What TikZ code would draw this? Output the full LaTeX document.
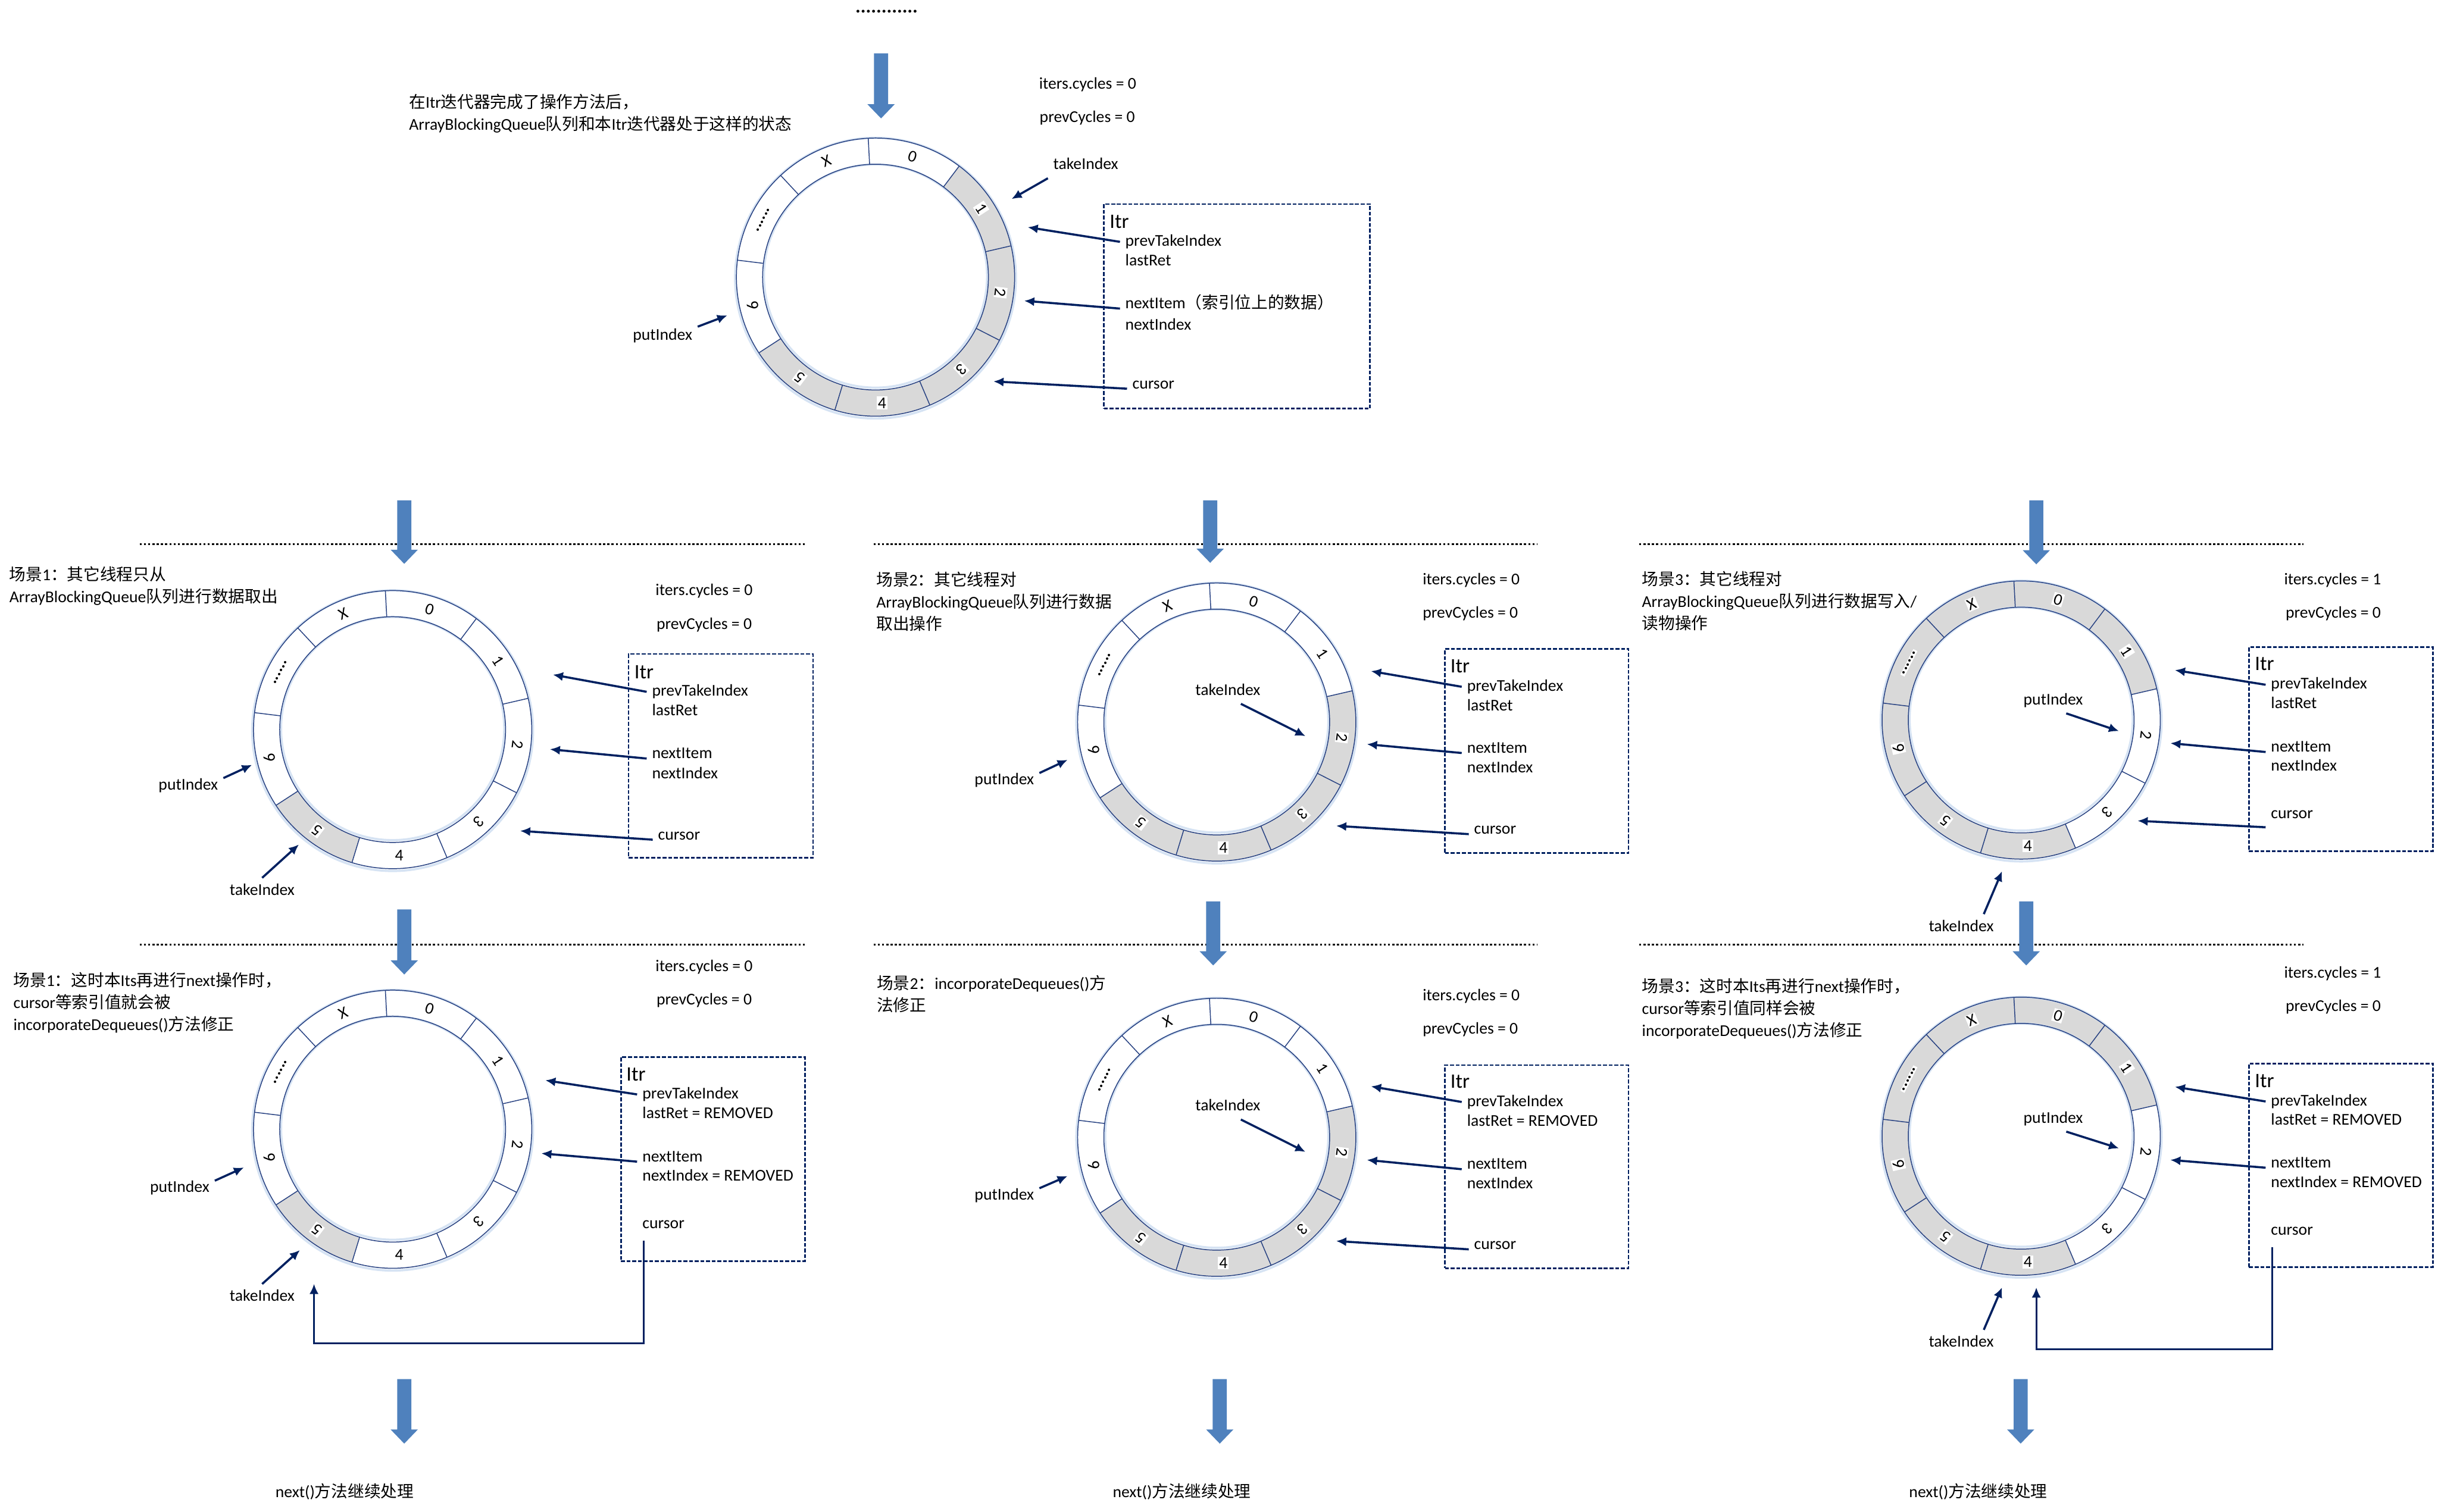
\documentclass[tikz,border=0pt]{standalone}
\usepackage{fontspec}
\setmainfont{Carlito}
\newfontfamily\cjk{Noto Sans CJK SC}
\usepackage{tikz}
\usetikzlibrary{arrows.meta}
\usepackage{xcolor}
\definecolor{navy}{RGB}{0,32,96}
\definecolor{ringblue}{RGB}{40,66,130}
\definecolor{glowblue}{RGB}{214,227,243}
\definecolor{slotgray}{RGB}{217,217,217}
\definecolor{blockblue}{RGB}{79,129,189}
\newcommand{\zh}[1]{{\cjk #1}}
\newcommand{\slotdots}{\textbf{......}}
% ring of 9 slots round a named centre, #2 = gray slots
\newcommand{\queuering}[2]{%
  \begin{scope}[shift={(#1)}]
    \foreach \k [evaluate=\k as \a using 93-40*\k, evaluate=\k as \b using 53-40*\k] in {#2}
      \fill[slotgray] (\a:2.76) arc[start angle=\a, end angle=\b, radius=2.76]
        -- (\b:2.24) arc[start angle=\b, end angle=\a, radius=2.24] -- cycle;
    \draw[glowblue,line width=1.3pt] (0,-0.02) circle[radius=2.785] (0,0.02) circle[radius=2.215];
    \draw[ringblue,line width=0.5pt] (0,0) circle[radius=2.76] (0,0) circle[radius=2.24];
    \foreach \k [evaluate=\k as \a using 93-40*\k] in {0,1,2,3,4,5,6,7,8}
      \draw[ringblue,line width=0.5pt] (\a:2.24) -- (\a:2.76);
    \foreach \lab/\rot [count=\k from 0] in {0/-17,1/-57,2/-97,3/-137,4/0,5/143,6/103,\slotdots/63,X/23}{
      \pgfmathsetmacro\c{73-40*\k}
      \node[slotlbl,rotate=\rot] (#1-s\k) at (\c:2.5) {\lab};}
  \end{scope}}
% blue block arrow: x, top, tip
\newcommand{\blockarrow}[3]{%
  \fill[blockblue] (#1-0.14,#2) -- (#1+0.14,#2) -- (#1+0.14,#3+0.28) -- (#1+0.27,#3+0.28)
    -- (#1,#3) -- (#1-0.27,#3+0.28) -- (#1-0.14,#3+0.28) -- cycle;}

\begin{document}
\begin{tikzpicture}[font=\fontsize{9.3}{12.5}\selectfont,
  lbl/.style={anchor=west,inner sep=1mm,text height=6.7pt,text depth=1.9pt},
  ttl/.style={anchor=west,inner sep=1mm,align=left},
  itrlbl/.style={anchor=west,inner sep=1mm,font=\fontsize{11.6}{14}\selectfont,text height=8.4pt,text depth=2.3pt},
  slotlbl/.style={fill=white,inner sep=0.6pt},
  ptr/.style={-{Latex[length=2mm,width=1.8mm]},navy,line width=1.2pt},
  itrbox/.style={draw=navy,line width=0.9pt,dash pattern=on 2.2pt off 1pt,inner sep=0pt},
  sepline/.style={line width=0.9pt,dash pattern=on 1.2pt off 1.2pt}]
\useasboundingbox (0,0) rectangle (48.37,30);

% top state
\node[font=\fontsize{11}{13}\selectfont\bfseries,anchor=base,inner sep=0pt] (t-dots) at (17.59,29.74) {............};
\blockarrow{17.48}{28.94}{27.65}
\node[ttl] (t-ttl) at (8.01,27.75) {\zh{在}Itr\zh{迭代器完成了操作方法后，}\\ArrayBlockingQueue\zh{队列和本}Itr\zh{迭代器处于这样的状态}};
\node[lbl] (t-ic) at (20.51,28.32) {iters.cycles = 0};
\node[lbl] (t-pc) at (20.52,27.66) {prevCycles = 0};
\coordinate (t) at (17.37,24.50);
\queuering{t}{1,2,3,4,5}
\node[itrbox,minimum width=5.28cm,minimum height=4.06cm] (t-box) at (24.54,23.92) {};
\node[itrlbl] (t-itr) at (21.91,25.58) {Itr};
\node[lbl] (t-ptk) at (22.22,25.20) {prevTakeIndex};
\node[lbl] (t-lr) at (22.22,24.81) {lastRet};
\node[lbl] (t-ni) at (22.22,23.96) {nextItem\zh{（索引位上的数据）}};
\node[lbl] (t-nx) at (22.22,23.54) {nextIndex};
\node[lbl] (t-cur) at (22.36,22.37) {cursor};
\node[lbl] (t-take) at (20.79,26.72) {takeIndex};
\node[lbl] (t-put) at (12.45,23.33) {putIndex};
\coordinate (t-e1) at (20.39,25.49);
\coordinate (t-e2) at (20.32,24.03);
\coordinate (t-e3) at (19.71,22.43);
\coordinate (t-e4) at (20.07,26.05);
\coordinate (t-e5) at (14.43,23.74);
\draw[ptr] (t-ptk.west) -- (t-e1);
\draw[ptr] (t-ni.base west) -- (t-e2);
\draw[ptr] (t-cur.base west) -- (t-e3);
\draw[ptr] (t-take.south west) -- (t-e4);
\draw[ptr] (t-put.15) -- (t-e5);

% scene 1, reads only
\draw[sepline] (2.77,19.20) -- (15.97,19.20);
\blockarrow{8.02}{20.07}{18.81}
\node[ttl] (s1a-ttl) at (0.08,18.37) {\zh{场景}1\zh{：其它线程只从}\\ArrayBlockingQueue\zh{队列进行数据取出}};
\node[lbl] (s1a-ic) at (12.90,18.27) {iters.cycles = 0};
\node[lbl] (s1a-pc) at (12.92,17.60) {prevCycles = 0};
\coordinate (s1a) at (7.79,15.52);
\queuering{s1a}{5}
\node[itrbox,minimum width=3.66cm,minimum height=4.04cm] (s1a-box) at (14.30,15.00) {};
\node[itrlbl] (s1a-itr) at (12.48,16.64) {Itr};
\node[lbl] (s1a-ptk) at (12.83,16.27) {prevTakeIndex};
\node[lbl] (s1a-lr) at (12.83,15.88) {lastRet};
\node[lbl] (s1a-ni) at (12.83,15.03) {nextItem};
\node[lbl] (s1a-nx) at (12.83,14.63) {nextIndex};
\node[lbl] (s1a-cur) at (12.95,13.42) {cursor};
\node[lbl] (s1a-put) at (3.04,14.41) {putIndex};
\node[lbl] (s1a-take) at (4.45,12.32) {takeIndex};
\coordinate (s1a-e1) at (10.97,16.61);
\coordinate (s1a-e2) at (10.91,15.13);
\coordinate (s1a-e3) at (10.32,13.51);
\coordinate (s1a-e4) at (5.00,14.82);
\coordinate (s1a-e5) at (5.93,13.24);
\draw[ptr] (s1a-ptk.west) -- (s1a-e1);
\draw[ptr] (s1a-ni.base west) -- (s1a-e2);
\draw[ptr] (s1a-cur.base west) -- (s1a-e3);
\draw[ptr] (s1a-put.12) -- (s1a-e4);
\draw[ptr] (s1a-take.north) -- (s1a-e5);

% scene 1, next()
\draw[sepline] (2.77,11.25) -- (15.97,11.25);
\blockarrow{8.02}{11.95}{10.66}
\node[ttl] (s1b-ttl) at (0.16,10.10) {\zh{场景}1\zh{：这时本}Its\zh{再进行}next\zh{操作时，}\\cursor\zh{等索引值就会被}\\incorporateDequeues()\zh{方法修正}};
\node[lbl] (s1b-ic) at (12.90,10.81) {iters.cycles = 0};
\node[lbl] (s1b-pc) at (12.92,10.15) {prevCycles = 0};
\coordinate (s1b) at (7.79,7.59);
\queuering{s1b}{5}
\node[itrbox,minimum width=3.65cm,minimum height=4.05cm] (s1b-box) at (14.145,6.995) {};
\node[itrlbl] (s1b-itr) at (12.32,8.65) {Itr};
\node[lbl] (s1b-ptk) at (12.64,8.28) {prevTakeIndex};
\node[lbl] (s1b-lr) at (12.64,7.89) {lastRet = REMOVED};
\node[lbl] (s1b-ni) at (12.64,7.03) {nextItem};
\node[lbl] (s1b-nx) at (12.64,6.65) {nextIndex = REMOVED};
\node[lbl] (s1b-cur) at (12.64,5.71) {cursor};
\node[lbl] (s1b-put) at (2.87,6.42) {putIndex};
\node[lbl] (s1b-take) at (4.45,4.26) {takeIndex};
\coordinate (s1b-e1) at (10.82,8.56);
\coordinate (s1b-e2) at (10.74,7.11);
\coordinate (s1b-e4) at (4.84,6.83);
\coordinate (s1b-e5) at (5.95,5.19);
\coordinate (s1b-c1) at (6.23,3.34);
\coordinate (s1b-c2) at (6.23,4.52);
\draw[ptr] (s1b-ptk.west) -- (s1b-e1);
\draw[ptr] (s1b-ni.base west) -- (s1b-e2);
\draw[ptr] (s1b-put.12) -- (s1b-e4);
\draw[ptr] (s1b-take.north) -- (s1b-e5);
\draw[ptr,line width=1pt] ([shift={(0.13,-0.07)}]s1b-cur.south west) |- (s1b-c1) -- (s1b-c2);

% scene 2, reads
\draw[sepline] (17.33,19.20) -- (30.49,19.20);
\blockarrow{24.01}{20.07}{18.83}
\node[ttl] (s2a-ttl) at (17.28,18.06) {\zh{场景}2\zh{：其它线程对}\\ArrayBlockingQueue\zh{队列进行数据}\\\zh{取出操作}};
\node[lbl] (s2a-ic) at (28.12,18.48) {iters.cycles = 0};
\node[lbl] (s2a-pc) at (28.12,17.82) {prevCycles = 0};
\coordinate (s2a) at (24.14,15.67);
\queuering{s2a}{2,3,4,5}
\node[itrbox,minimum width=3.64cm,minimum height=4.05cm] (s2a-box) at (30.49,15.095) {};
\node[itrlbl] (s2a-itr) at (28.67,16.76) {Itr};
\node[lbl] (s2a-ptk) at (29.00,16.37) {prevTakeIndex};
\node[lbl] (s2a-lr) at (29.00,15.98) {lastRet};
\node[lbl] (s2a-ni) at (29.00,15.14) {nextItem};
\node[lbl] (s2a-nx) at (29.00,14.75) {nextIndex};
\node[lbl] (s2a-cur) at (29.14,13.53) {cursor};
\node[lbl] (s2a-put) at (19.23,14.51) {putIndex};
\node[lbl] (s2a-take) at (23.61,16.29) {takeIndex};
\coordinate (s2a-e1) at (27.20,16.68);
\coordinate (s2a-e2) at (27.12,15.23);
\coordinate (s2a-e3) at (26.51,13.61);
\coordinate (s2a-e4) at (21.18,14.92);
\coordinate (s2a-e5) at (25.90,15.39);
\draw[ptr] (s2a-ptk.west) -- (s2a-e1);
\draw[ptr] (s2a-ni.base west) -- (s2a-e2);
\draw[ptr] (s2a-cur.base west) -- (s2a-e3);
\draw[ptr] (s2a-put.12) -- (s2a-e4);
\draw[ptr] (s2a-take.-45) -- (s2a-e5);

% scene 2, incorporateDequeues
\draw[sepline] (17.33,11.25) -- (30.49,11.25);
\blockarrow{24.07}{12.11}{10.84}
\node[ttl] (s2b-ttl) at (17.29,10.27) {\zh{场景}2\zh{：}incorporateDequeues()\zh{方}\\\zh{法修正}};
\node[lbl] (s2b-ic) at (28.12,10.23) {iters.cycles = 0};
\node[lbl] (s2b-pc) at (28.12,9.57) {prevCycles = 0};
\coordinate (s2b) at (24.14,7.43);
\queuering{s2b}{2,3,4,5}
\node[itrbox,minimum width=3.64cm,minimum height=4.03cm] (s2b-box) at (30.49,6.845) {};
\node[itrlbl] (s2b-itr) at (28.67,8.51) {Itr};
\node[lbl] (s2b-ptk) at (29.00,8.13) {prevTakeIndex};
\node[lbl] (s2b-lr) at (29.00,7.73) {lastRet = REMOVED};
\node[lbl] (s2b-ni) at (29.00,6.88) {nextItem};
\node[lbl] (s2b-nx) at (29.00,6.50) {nextIndex};
\node[lbl] (s2b-cur) at (29.14,5.29) {cursor};
\node[lbl] (s2b-put) at (19.23,6.27) {putIndex};
\node[lbl] (s2b-take) at (23.61,8.04) {takeIndex};
\coordinate (s2b-e1) at (27.20,8.44);
\coordinate (s2b-e2) at (27.12,6.98);
\coordinate (s2b-e3) at (26.51,5.37);
\coordinate (s2b-e4) at (21.18,6.66);
\coordinate (s2b-e5) at (25.90,7.14);
\draw[ptr] (s2b-ptk.west) -- (s2b-e1);
\draw[ptr] (s2b-ni.base west) -- (s2b-e2);
\draw[ptr] (s2b-cur.base west) -- (s2b-e3);
\draw[ptr] (s2b-put.12) -- (s2b-e4);
\draw[ptr] (s2b-take.-45) -- (s2b-e5);

% scene 3, writes and reads
\draw[sepline] (32.52,19.20) -- (45.70,19.20);
\blockarrow{40.40}{20.07}{18.80}
\node[ttl] (s3a-ttl) at (32.47,18.07) {\zh{场景}3\zh{：其它线程对}\\ArrayBlockingQueue\zh{队列进行数据写入}/\\\zh{读物操作}};
\node[lbl] (s3a-ic) at (45.21,18.48) {iters.cycles = 1};
\node[lbl] (s3a-pc) at (45.24,17.82) {prevCycles = 0};
\coordinate (s3a) at (40.10,15.71);
\queuering{s3a}{0,1,4,5,6,7,8}
\node[itrbox,minimum width=3.65cm,minimum height=4.05cm] (s3a-box) at (46.445,15.135) {};
\node[itrlbl] (s3a-itr) at (44.63,16.80) {Itr};
\node[lbl] (s3a-ptk) at (44.95,16.41) {prevTakeIndex};
\node[lbl] (s3a-lr) at (44.95,16.02) {lastRet};
\node[lbl] (s3a-ni) at (44.95,15.16) {nextItem};
\node[lbl] (s3a-nx) at (44.95,14.78) {nextIndex};
\node[lbl] (s3a-cur) at (44.95,13.84) {cursor};
\node[lbl] (s3a-put) at (40.04,16.10) {putIndex};
\node[lbl] (s3a-take) at (38.16,11.60) {takeIndex};
\coordinate (s3a-e1) at (43.15,16.70);
\coordinate (s3a-e2) at (43.06,15.25);
\coordinate (s3a-e3) at (42.41,13.71);
\coordinate (s3a-e4) at (42.04,15.49);
\coordinate (s3a-e5) at (39.72,12.71);
\draw[ptr] (s3a-ptk.west) -- (s3a-e1);
\draw[ptr] (s3a-ni.base west) -- (s3a-e2);
\draw[ptr] (s3a-cur.south west) -- (s3a-e3);
\draw[ptr] (s3a-put.-45) -- (s3a-e4);
\draw[ptr] (s3a-take.30) -- (s3a-e5);

% scene 3, next()
\draw[sepline] (32.52,11.25) -- (45.70,11.25);
\blockarrow{40.20}{12.11}{10.84}
\node[ttl] (s3b-ttl) at (32.47,9.98) {\zh{场景}3\zh{：这时本}Its\zh{再进行}next\zh{操作时，}\\cursor\zh{等索引值同样会被}\\incorporateDequeues()\zh{方法修正}};
\node[lbl] (s3b-ic) at (45.21,10.68) {iters.cycles = 1};
\node[lbl] (s3b-pc) at (45.24,10.02) {prevCycles = 0};
\coordinate (s3b) at (40.10,7.45);
\queuering{s3b}{0,1,4,5,6,7,8}
\node[itrbox,minimum width=3.65cm,minimum height=4.04cm] (s3b-box) at (46.445,6.87) {};
\node[itrlbl] (s3b-itr) at (44.63,8.53) {Itr};
\node[lbl] (s3b-ptk) at (44.95,8.14) {prevTakeIndex};
\node[lbl] (s3b-lr) at (44.95,7.76) {lastRet = REMOVED};
\node[lbl] (s3b-ni) at (44.95,6.91) {nextItem};
\node[lbl] (s3b-nx) at (44.95,6.52) {nextIndex = REMOVED};
\node[lbl] (s3b-cur) at (44.95,5.58) {cursor};
\node[lbl] (s3b-put) at (40.04,7.80) {putIndex};
\node[lbl] (s3b-take) at (38.16,3.35) {takeIndex};
\coordinate (s3b-e1) at (43.15,8.43);
\coordinate (s3b-e2) at (43.06,6.98);
\coordinate (s3b-e4) at (42.04,7.21);
\coordinate (s3b-e5) at (39.72,4.45);
\coordinate (s3b-c1) at (40.40,3.22);
\coordinate (s3b-c2) at (40.40,4.45);
\draw[ptr] (s3b-ptk.west) -- (s3b-e1);
\draw[ptr] (s3b-ni.base west) -- (s3b-e2);
\draw[ptr] (s3b-put.-45) -- (s3b-e4);
\draw[ptr] (s3b-take.30) -- (s3b-e5);
\draw[ptr,line width=1pt] ([shift={(0.13,-0.07)}]s3b-cur.south west) |- (s3b-c1) -- (s3b-c2);

% continue
\blockarrow{8.02}{2.63}{1.35}
\blockarrow{24.20}{2.63}{1.35}
\blockarrow{40.09}{2.63}{1.35}
\node[lbl] (b1) at (5.36,0.37) {next()\zh{方法继续处理}};
\node[lbl] (b2) at (21.97,0.37) {next()\zh{方法继续处理}};
\node[lbl] (b3) at (37.77,0.37) {next()\zh{方法继续处理}};
\end{tikzpicture}
\end{document}
